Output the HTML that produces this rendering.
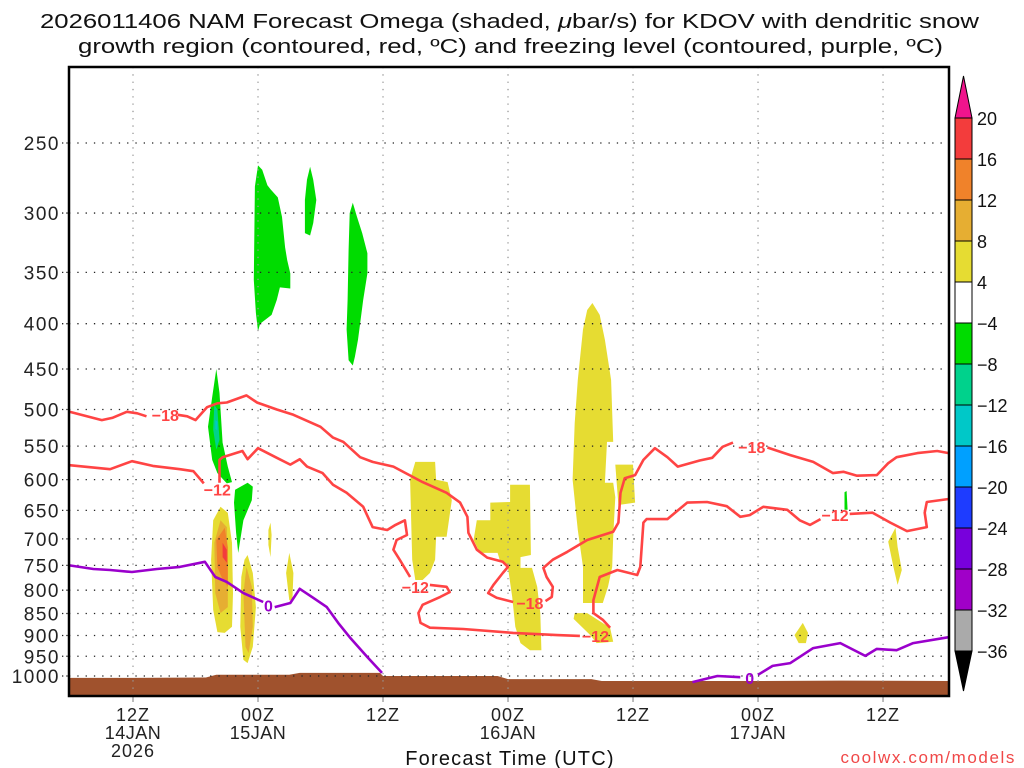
<!DOCTYPE html>
<html><head><meta charset="utf-8"><style>
html,body{margin:0;padding:0;background:#fff;}
svg{display:block;font-family:"Liberation Sans",sans-serif;}
</style></head><body>
<svg id="chart" width="1024" height="768" viewBox="0 0 1024 768" xmlns="http://www.w3.org/2000/svg">
<defs><clipPath id="plotclip"><rect x="69" y="67" width="880" height="629"/></clipPath></defs>
<text x="40" y="28" font-size="20" textLength="939" lengthAdjust="spacingAndGlyphs" fill="#111">2026011406 NAM Forecast Omega (shaded, <tspan font-style="italic">μ</tspan>bar/s) for KDOV with dendritic snow</text>
<text x="78" y="53" font-size="20" textLength="865" lengthAdjust="spacingAndGlyphs" fill="#111">growth region (contoured, red, ºC) and freezing level (contoured, purple, ºC)</text>
<g id="plot" clip-path="url(#plotclip)"></g>
<g id="overlay"></g>
<rect x="69" y="67" width="880" height="629" fill="none" stroke="#000" stroke-width="2.5"/>
<g id="cbar"></g>
<text x="510" y="765" font-size="20" text-anchor="middle" fill="#111" letter-spacing="1.2">Forecast Time (UTC)</text>
<text x="1016" y="763" font-size="17" text-anchor="end" fill="#f04848" letter-spacing="1.6">coolwx.com/models</text>
</svg>
<script>
// ---- data ----
const pressureLevels = [250,300,350,400,450,500,550,600,650,700,750,800,850,900,950,1000];
const timeTicks = [12,24,36,48,60,72,84];
const timeTickLabels = ["12Z","00Z","12Z","00Z","12Z","00Z","12Z"];
const dateTickLabels = ["14JAN","15JAN","","16JAN","","17JAN",""];
const groundHours = [5.9,12,19,20,27,28,35.7,36,47,48,56,57,64,72,80,90.3];
const groundPres  = [1005,1005,1004,997,997,992,992,1000,1000,1008,1008,1013,1013,1013,1012,1013];
const omegaLevels = [20,16,12,8,4,-4,-8,-12,-16,-20,-24,-28,-32,-36];
const omegaColors = ["#f33c3c","#f0822a","#e6ae32","#e6dc32","#ffffff","#00dc00","#00d28c","#00c8c8","#00a0ff","#1e3cff","#7800dc","#a000c8","#aaaaaa"];
const blobGreen1 = [[24.0,265],[24.4,268],[24.9,279],[25.2,282],[25.9,288],[26.3,303],[26.6,328],[26.8,339],[27.1,351],[27.1,365],[26.1,364],[25.8,376],[25.3,391],[24.2,400],[24.0,408],[23.8,389],[23.6,357],[23.7,280]];
const blobGreen2 = [[29.0,266],[29.3,275],[29.6,290],[29.3,308],[29.0,318],[28.5,316],[28.5,290],[28.7,275]];
const blobGreen3 = [[33.1,292],[33.5,303],[34.0,316],[34.5,333],[34.5,351],[34.1,376],[33.8,400],[33.6,417],[33.3,436],[33.1,446],[32.7,440],[32.5,406],[32.6,376],[32.7,330],[32.8,300]];
const blobGreen4 = [[20.0,450],[20.3,479],[20.6,545],[21.1,580],[21.5,604],[21.0,606],[20.1,590],[19.6,570],[19.2,523],[19.6,484]];
const blobTeal = [[19.8,494],[20.1,500],[20.3,541],[20.0,555],[19.7,527]];
const blobCyan = [[19.9,514],[20.1,516],[20.1,528],[19.9,526]];
const blobGreen5 = [[21.8,616],[23.0,605],[23.5,611],[23.4,633],[22.6,667],[22.1,726],[21.9,689],[21.7,637]];
const blobGreen6 = [[80.3,620],[80.5,618],[80.6,649],[80.3,649]];
const blobYellow1 = [[20.4,644],[21.1,654],[21.5,707],[21.6,806],[21.5,880],[20.8,894],[20.1,892],[19.7,842],[19.5,739],[19.7,667]];
const blobGold1 = [[20.4,667],[21.0,679],[21.1,739],[21.1,836],[20.4,849],[19.9,806],[19.8,707]];
const blobOrange1 = [[20.8,680],[21.1,715],[21.1,793],[20.5,773],[20.1,753],[20.0,702]];
const blobRed1 = [[20.6,707],[21.0,720],[21.0,745],[20.6,734]];
const blobYellow2 = [[23.0,730],[23.5,765],[23.8,836],[23.5,927],[23.0,967],[22.6,959],[22.3,880],[22.4,773],[22.7,739]];
const blobGold2 = [[22.9,753],[23.4,793],[23.5,880],[23.1,942],[22.8,927],[22.6,806]];
const blobYellow3 = [[25.2,671],[25.3,693],[25.2,734],[25.0,711],[25.0,684]];
const blobYellow4 = [[27.0,726],[27.4,765],[27.3,821],[27.0,821],[26.7,765]];
const blobYellowA = [[39.1,573],[41.0,573],[41.1,600],[42.2,604],[42.6,633],[42.1,696],[41.1,696],[41.0,739],[40.5,765],[39.8,779],[39.1,779],[38.8,739],[38.6,600]];
const blobYellowB = [[44.7,702],[45.0,667],[46.3,667],[46.3,637],[48.2,636],[48.2,608],[50.1,608],[50.2,730],[49.2,734],[49.2,755],[50.3,755],[50.8,793],[51.1,849],[51.2,935],[50.1,935],[49.2,918],[48.7,880],[48.4,814],[48.0,755],[47.2,739],[47.0,726],[45.3,726]];
const blobYellowC = [[56.1,379],[56.8,391],[57.3,417],[57.9,463],[58.1,544],[57.5,544],[57.3,605],[58.1,605],[58.3,628],[58.1,696],[58.0,753],[57.6,793],[57.1,827],[55.2,827],[55.2,753],[54.7,684],[54.2,600],[54.4,518],[54.7,463],[55.2,406],[55.6,386]];
const blobYellowC2 = [[58.3,577],[60.0,577],[60.2,637],[58.6,641]];
const blobYellowC3 = [[54.4,849],[55.6,849],[57.8,882],[58.1,915],[56.5,918],[55.9,899],[54.3,862]];
const blobYellowR = [[85.2,680],[85.4,715],[85.8,759],[85.4,789],[85.0,753],[84.5,705]];
const blobYellowS = [[76.3,871],[76.8,894],[76.6,918],[75.9,918],[75.5,899]];
const blobs = [[5,blobGreen1],[5,blobGreen2],[5,blobGreen3],[5,blobGreen4],[6,blobTeal],[7,blobCyan],[5,blobGreen5],[5,blobGreen6],
 [3,blobYellow1],[2,blobGold1],[1,blobOrange1],[0,blobRed1],[3,blobYellow2],[2,blobGold2],[3,blobYellow3],[3,blobYellow4],
 [3,blobYellowA],[3,blobYellowB],[3,blobYellowC],[3,blobYellowC2],[3,blobYellowC3],[3,blobYellowR],[3,blobYellowS]];
const m18a = [[5.9,503],[9.0,514],[10.0,511],[11.4,503],[12.4,505],[13.3,509]];
const m18b = [[16.3,507],[17.2,509],[18.0,514],[19.1,497],[20.1,492],[21.0,491],[22.9,482],[23.9,491],[25.8,500],[27.4,507],[30.0,523],[31.2,538],[32.2,544],[33.8,566],[35.0,573],[37.0,580],[39.8,604],[42.1,621],[43.4,637],[44.1,661],[44.2,689],[45.0,720],[46.0,735],[47.5,743],[48.0,753],[47.5,765],[46.6,789],[46.1,806],[46.9,816],[48.5,825]];
const m18c = [[51.6,823],[52.2,814],[52.3,793],[51.7,773],[51.4,755],[52.3,739],[53.7,724],[55.6,702],[58.1,687],[58.6,671],[58.8,621],[59.2,598],[60.2,593],[61.0,570],[62.1,553],[63.3,566],[64.3,580],[66.4,571],[67.6,567],[68.6,551],[69.6,545]];
const m18d = [[72.9,552],[75.1,563],[77.3,573],[79.2,590],[80.2,588],[81.5,594],[83.4,593],[84.5,575],[85.3,566],[87.3,560],[89.2,557],[90.3,560]];
const m12a = [[5.9,578],[9.8,584],[11.9,572],[13.9,579],[16.5,584],[17.8,587],[18.8,606]];
const m12b = [[20.3,605],[20.3,570],[20.6,566],[22.5,557],[23.0,569],[24.0,553],[25.8,567],[27.1,577],[28.0,569],[28.7,580],[30.2,590],[31.2,608],[32.5,621],[34.1,644],[35.0,679],[36.4,684],[37.2,675],[38.1,667],[38.3,693],[37.3,702],[37.0,720],[37.6,739],[38.6,773]];
const m12c = [[40.5,789],[42.1,793],[42.4,804],[41.5,814],[39.8,831],[39.4,849],[39.6,871],[40.5,882],[43.7,885],[48.5,894],[52.7,899],[54.9,901]];
const m12d = [[57.8,882],[57.1,864],[56.2,849],[56.2,821],[56.8,773],[58.5,759],[60.4,769],[60.7,753],[61.0,671],[61.3,665],[63.3,665],[65.2,637],[67.1,636],[69.0,643],[70.3,661],[71.2,658],[72.5,644],[74.8,649],[76.0,667],[77.0,675],[78.0,665]];
const m12e = [[80.8,656],[83.0,654],[84.7,671],[86.3,686],[88.2,679],[88.0,654],[88.2,636],[90.3,631]];
const frzA = [[5.9,750],[8.2,757],[9.8,759],[11.9,763],[14.3,757],[16.5,753],[18.9,743],[19.9,773],[21.0,783],[22.6,806],[24.5,825]];
const frzB = [[25.6,836],[27.1,827],[28.0,797],[29.3,816],[30.6,836],[31.7,871],[32.8,904],[34.5,952],[35.9,992]];
const frzC = [[65.7,1016],[68.1,1000],[70.3,1003]];
const frzD = [[72.0,997],[73.4,974],[75.1,967],[77.3,930],[79.9,918],[82.3,949],[83.4,932],[85.3,935],[86.9,918],[90.3,904]];
const labelTexts = ["−18","−18","−18","−12","−12","−12","−12","0","0"];
const labelHours = [15.1,50.1,71.4,20.1,39.1,56.4,79.4,25.0,71.2];
const labelPres  = [507,827,551,616,793,901,658,833,1005];
const labelKinds = ["red","red","red","red","red","red","red","purple","purple"];

// ---- axes ----
function X(h){return 8+10.417*h;}
function Y(p){return 676-384.5*Math.log(1000/p);}
const NS="http://www.w3.org/2000/svg";
function mk(tag,attrs,parent){const e=document.createElementNS(NS,tag);for(const k in attrs)e.setAttribute(k,attrs[k]);parent.appendChild(e);return e;}
function pts(arr){return arr.map(d=>X(d[0]).toFixed(1)+","+Y(d[1]).toFixed(1)).join(" ");}
const plot=document.getElementById("plot"), ov=document.getElementById("overlay"), cb=document.getElementById("cbar");

let gp=[[groundHours[0],1100]];
for(let i=0;i<groundHours.length;i++)gp.push([groundHours[i],groundPres[i]]);
gp.push([groundHours[groundHours.length-1],1100]);
let g=mk("polygon",{points:pts(gp),fill:"#a0522d"},plot);



blobs.forEach((b,i)=>{
  const e=mk("polygon",{points:pts(b[1]),fill:omegaColors[b[0]]},plot);
  
  
});

pressureLevels.forEach(p=>{
  const l=mk("line",{x1:69,x2:949,y1:Y(p),y2:Y(p),stroke:"#222","stroke-width":1.3,"stroke-dasharray":"1.3 7"},plot);
  
  
  const t=mk("text",{x:60,y:Y(p)+7,"font-size":19,"text-anchor":"end",fill:"#222","letter-spacing":1.5},ov);
  t.textContent=p;
  
  
  const tk=mk("line",{x1:62,x2:69,y1:Y(p),y2:Y(p),stroke:"#222","stroke-width":1.3,"stroke-dasharray":"1.3 3"},ov);
  
  
});
timeTicks.forEach((h,i)=>{
  const l=mk("line",{x1:X(h),x2:X(h),y1:67,y2:696,stroke:"#999","stroke-width":1.3,"stroke-dasharray":"1.3 6"},plot);
  
  
  const tk=mk("line",{x1:X(h),x2:X(h),y1:696,y2:702,stroke:"#999","stroke-width":1.3},ov);
  
  
  const t=mk("text",{x:X(h),y:721,"font-size":18,"text-anchor":"middle",fill:"#222","letter-spacing":1},ov);
  t.textContent=timeTickLabels[i];
  
  
  if(dateTickLabels[i]){
    const d=mk("text",{x:X(h),y:739,"font-size":18,"text-anchor":"middle",fill:"#222","letter-spacing":0.5},ov);
    d.textContent=dateTickLabels[i];
    
    
  }
});
const yr=mk("text",{x:X(12),y:757,"font-size":18,"text-anchor":"middle",fill:"#222","letter-spacing":1},ov);
yr.textContent="2026";



[[m18a,"#ff4444"],[m18b,"#ff4444"],[m18c,"#ff4444"],[m18d,"#ff4444"],[m12a,"#ff4444"],[m12b,"#ff4444"],[m12c,"#ff4444"],[m12d,"#ff4444"],[m12e,"#ff4444"],
 [frzA,"#9a00cc"],[frzB,"#9a00cc"],[frzC,"#9a00cc"],[frzD,"#9a00cc"]].forEach(s=>{
  const e=mk("polyline",{points:pts(s[0]),fill:"none",stroke:s[1],"stroke-width":2.6,"stroke-linejoin":"round"},plot);
  
  
});
labelTexts.forEach((txt,i)=>{
  const t=mk("text",{x:X(labelHours[i]),y:Y(labelPres[i])+6,"font-size":16,"font-weight":"bold","text-anchor":"middle",fill:labelKinds[i]==="red"?"#ff4444":"#9a00cc"},plot);
  t.textContent=txt;
  
  
});

const cbx=955,cbw=17,top0=118,step=41;
const tri=mk("polygon",{points:`${cbx},${top0} ${cbx+cbw},${top0} ${cbx+cbw/2},76`,fill:"#f0148c",stroke:"#000","stroke-width":1},cb);


omegaColors.forEach((c,i)=>{
  const r=mk("rect",{x:cbx,y:top0+i*step,width:cbw,height:step,fill:c,stroke:"#000","stroke-width":1},cb);
  
  
});
const bot=top0+omegaColors.length*step;
const tri2=mk("polygon",{points:`${cbx},${bot} ${cbx+cbw},${bot} ${cbx+cbw/2},691`,fill:"#000",stroke:"#000","stroke-width":1},cb);


omegaLevels.forEach((v,i)=>{
  const t=mk("text",{x:977,y:top0+i*step+7,"font-size":18,fill:"#111"},cb);
  t.textContent=v<0?"−"+(-v):String(v);
  
  
});
</script>
</body></html>
